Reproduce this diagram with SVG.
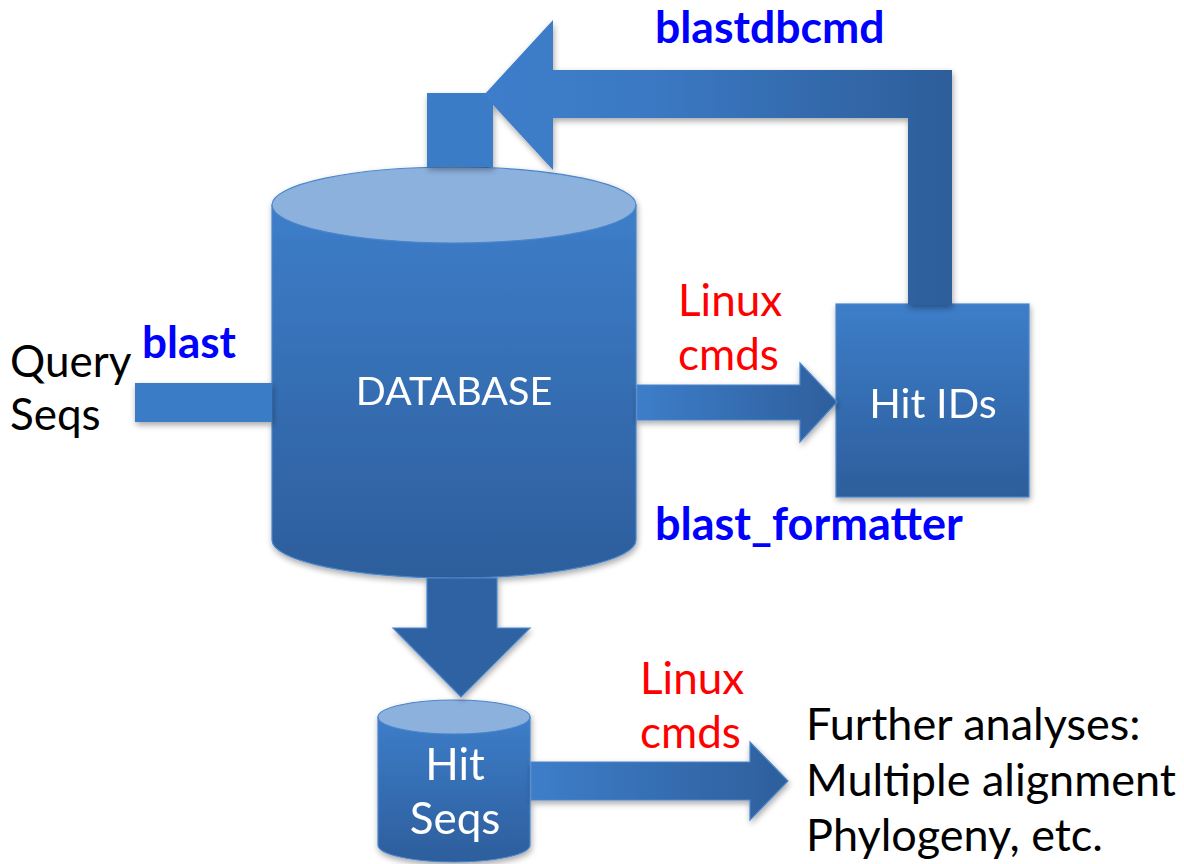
<svg xmlns="http://www.w3.org/2000/svg" width="1184" height="864" viewBox="0 0 1184 864">
  <defs>
    <linearGradient id="bodyV" x1="0" y1="0" x2="0" y2="1">
      <stop offset="0" stop-color="#3d7dc9"/>
      <stop offset="1" stop-color="#2d5e9c"/>
    </linearGradient>
    <linearGradient id="barH" x1="0" y1="0" x2="1" y2="0">
      <stop offset="0" stop-color="#3d7dc9"/>
      <stop offset="1" stop-color="#2e5f9c"/>
    </linearGradient>
    <linearGradient id="topArrow" gradientUnits="userSpaceOnUse" x1="484" y1="0" x2="952" y2="0">
      <stop offset="0" stop-color="#3d7dc9"/>
      <stop offset="0.35" stop-color="#3b79c4"/>
      <stop offset="1" stop-color="#2d5e9a"/>
    </linearGradient>
    <filter id="shadow" x="-10%" y="-10%" width="130%" height="130%">
      <feGaussianBlur in="SourceAlpha" stdDeviation="3"/>
      <feOffset dx="1" dy="3" result="b"/>
      <feComponentTransfer><feFuncA type="linear" slope="0.35"/></feComponentTransfer>
      <feMerge><feMergeNode/><feMergeNode in="SourceGraphic"/></feMerge>
    </filter>
    <style>
      .lbl { font-family: Lato, "Open Sans", "Liberation Sans", sans-serif; }
      .white { fill: #ffffff; }
      .black { fill: #000000; }
      .red { fill: #ff0000; }
      .blue { fill: #0000ff; font-weight: bold; }
      .edge { stroke: #4a86cc; stroke-width: 1.2; }
      .cap { fill: #8cb1dd; stroke: #4a86cc; stroke-width: 1.2; }
    </style>
  </defs>

  <rect width="1184" height="864" fill="#ffffff"/>

  <!-- database cylinder -->
  <g id="database" filter="url(#shadow)">
    <path d="M272 205 L272 540 A182 38 0 0 0 636 540 L636 205 Z" fill="url(#bodyV)" class="edge"/>
    <ellipse cx="454" cy="205" rx="182" ry="38" class="cap"/>
    <text x="454" y="405" text-anchor="middle" font-size="39.5" class="lbl white">DATABASE</text>
  </g>

  <!-- Hit IDs box -->
  <g id="hit-ids" filter="url(#shadow)">
    <rect x="836" y="304" width="193" height="193" fill="url(#bodyV)" class="edge"/>
    <text x="933" y="418" text-anchor="middle" font-size="41.5" class="lbl white">Hit IDs</text>
  </g>

  <!-- Hit Seqs cylinder -->
  <g id="hit-seqs" filter="url(#shadow)">
    <path d="M378 717 L378 845 A76 17 0 0 0 530 845 L530 717 Z" fill="url(#bodyV)" class="edge"/>
    <ellipse cx="454" cy="717" rx="76" ry="17" class="cap"/>
    <text x="455" y="780" text-anchor="middle" font-size="44" class="lbl white">Hit</text>
    <text x="455" y="834" text-anchor="middle" font-size="44" class="lbl white">Seqs</text>
  </g>

  <!-- connectors -->
  <g id="connectors" filter="url(#shadow)">
    <!-- stub on top of database, under the return arrow -->
    <rect x="427" y="93" width="66" height="74" fill="#3b7bc7"/>
    <!-- blastdbcmd: Hit IDs back up to database -->
    <path d="M952 305 L952 70 L553 70 L553 20 L484 95 L553 170 L553 118 L908 118 L908 305 Z" fill="url(#topArrow)"/>
    <!-- query into database -->
    <rect x="135" y="383" width="137" height="39" fill="#3b7bc7"/>
    <!-- database to Hit IDs -->
    <path d="M637 385 L800 385 L800 363 L837 402 L800 442 L800 420 L637 420 Z" fill="url(#barH)" class="edge"/>
    <!-- database down to Hit Seqs -->
    <path d="M427 578 L497 578 L497 628 L530 628 L461 697 L393 628 L427 628 Z" fill="#2f62a2" class="edge"/>
    <!-- Hit Seqs to further analyses -->
    <path d="M531 762 L750 762 L750 742 L788 781 L750 820 L750 800 L531 800 Z" fill="url(#barH)" class="edge"/>
  </g>

  <!-- query sequences -->
  <g id="query-seqs">
    <text x="10" y="377" font-size="44" class="lbl black">Query</text>
    <text x="10" y="430" font-size="44" class="lbl black">Seqs</text>
  </g>

  <!-- command labels -->
  <g id="labels">
    <text x="142" y="358" font-size="44" class="lbl blue">blast</text>
    <text x="655" y="43" font-size="44.5" class="lbl blue">blastdbcmd</text>
    <text x="655" y="540" font-size="45" class="lbl blue">blast_formatter</text>
    <text x="678" y="316" font-size="44" class="lbl red">Linux</text>
    <text x="678" y="370" font-size="44" class="lbl red">cmds</text>
    <text x="640" y="694" font-size="44" class="lbl red">Linux</text>
    <text x="640" y="748" font-size="44" class="lbl red">cmds</text>
  </g>

  <!-- further analyses -->
  <g id="further-analyses">
    <text x="806" y="740" font-size="45" class="lbl black">Further analyses:</text>
    <text x="806" y="796" font-size="45" class="lbl black">Multiple alignment</text>
    <text x="806" y="851" font-size="45" class="lbl black">Phylogeny, etc.</text>
  </g>
</svg>
